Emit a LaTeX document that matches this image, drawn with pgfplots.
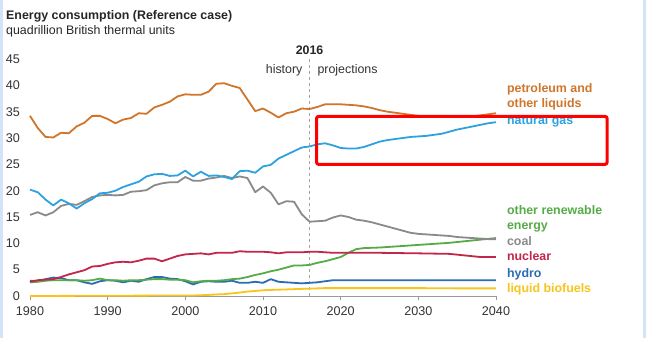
\documentclass[border=0pt]{standalone}
\usepackage{pgfplots}
\pgfplotsset{compat=1.18}
\usepackage{fontspec}
\setmainfont{Liberation Sans}
\definecolor{petro}{HTML}{D0762B}
\definecolor{gas}{HTML}{2EA2DF}
\definecolor{coal}{HTML}{8A8A8A}
\definecolor{nuc}{HTML}{C2264B}
\definecolor{renew}{HTML}{55AC47}
\definecolor{hydro}{HTML}{2A6DB3}
\definecolor{bio}{HTML}{F7C51B}
\definecolor{txt}{HTML}{333333}
\definecolor{edge}{HTML}{D3E4F6}
\begin{document}
\begin{tikzpicture}[x=1pt,y=1pt]
\path[use as bounding box] (0,0) rectangle (646,338);
\fill[white] (0,0) rectangle (646,338);
\fill[edge] (0,0) rectangle (3,338);
\fill[edge] (643,0) rectangle (646,338);
\node[anchor=west,font=\fontsize{12.4}{14}\selectfont\bfseries,text=black!85,inner sep=0pt] at (6,322) {Energy consumption (Reference case)};
\node[anchor=west,font=\fontsize{12.4}{14}\selectfont,text=black!85,inner sep=0pt] at (6,306.5) {quadrillion British thermal units};
\begin{axis}[
  at={(30pt,42pt)}, anchor=south west,
  scale only axis, width=466pt, height=237pt,
  xmin=1980, xmax=2040, ymin=0, ymax=45,
  xtick={1980,1990,...,2040}, ytick={0,5,...,45},
  xticklabel style={/pgf/number format/1000 sep={}},
  /pgf/number format/assume math mode=true,
  ticklabel style={font=\fontsize{12.6}{14}\selectfont, text=txt},
  ymajorgrids, grid style={draw=black!9, line width=0.8pt},
  axis x line*=bottom, axis y line=none,
  x axis line style={draw=black!40, line width=0.8pt, -},
  xtick style={draw=black!40, line width=0.8pt},
  tick align=outside, major tick length=4pt,
  ytick style={draw=none},
  xticklabel style={yshift=-3pt},
  clip=false,
  every axis plot/.append style={line width=1.8pt, line join=round, mark=none},
]
\pgfplotsinvokeforeach{0,5,...,45}{\node[anchor=east,font=\fontsize{12.6}{14}\selectfont,text=txt,inner sep=0pt] at (axis cs:1980,#1) [xshift=-10pt] {#1};}
\draw[black!35, dashed, line width=0.7pt] (axis cs:2016,0) -- (axis cs:2016,45.4);
\node[font=\fontsize{12.4}{14}\selectfont\bfseries,text=black!85,inner sep=0pt] at (axis cs:2016,46.6) {2016};
\node[anchor=east,font=\fontsize{12.4}{14}\selectfont,text=txt,inner sep=0pt] at (axis cs:2015.1,42.9) {history};
\node[anchor=west,font=\fontsize{12.4}{14}\selectfont,text=txt,inner sep=0pt] at (axis cs:2017.0,42.9) {projections};
% liquid biofuels
\addplot[bio] coordinates {(1980,0.0)(1990,0.05)(2000,0.1)(2001,0.1)(2002,0.15)(2003,0.2)(2004,0.3)(2005,0.35)(2006,0.5)(2007,0.65)(2008,0.85)(2009,0.95)(2010,1.1)(2011,1.15)(2012,1.2)(2013,1.25)(2014,1.3)(2015,1.35)(2016,1.4)(2017,1.45)(2018,1.5)(2019,1.5)(2020,1.5)(2025,1.5)(2030,1.5)(2035,1.45)(2040,1.45)};
% hydro
\addplot[hydro] coordinates {(1980,2.9)(1981,2.8)(1982,3.2)(1983,3.5)(1984,3.4)(1985,3.0)(1986,3.0)(1987,2.6)(1988,2.3)(1989,2.8)(1990,3.0)(1991,2.9)(1992,2.6)(1993,2.9)(1994,2.7)(1995,3.2)(1996,3.6)(1997,3.6)(1998,3.3)(1999,3.2)(2000,2.8)(2001,2.2)(2002,2.7)(2003,2.8)(2004,2.7)(2005,2.7)(2006,2.9)(2007,2.5)(2008,2.5)(2009,2.7)(2010,2.5)(2011,3.2)(2012,2.7)(2013,2.6)(2014,2.5)(2015,2.4)(2016,2.5)(2017,2.6)(2018,2.8)(2019,3.0)(2020,3.0)(2025,3.0)(2030,3.0)(2035,3.0)(2040,3.0)};
% other renewable
\addplot[renew] coordinates {(1980,2.6)(1981,2.7)(1982,2.9)(1983,3.0)(1984,3.0)(1985,3.0)(1986,3.0)(1987,2.9)(1988,3.0)(1989,3.3)(1990,3.0)(1991,3.0)(1992,2.9)(1993,3.0)(1994,3.0)(1995,3.1)(1996,3.2)(1997,3.2)(1998,3.1)(1999,3.1)(2000,3.0)(2001,2.6)(2002,2.8)(2003,2.9)(2004,2.9)(2005,3.0)(2006,3.2)(2007,3.3)(2008,3.6)(2009,4.0)(2010,4.3)(2011,4.7)(2012,5.0)(2013,5.4)(2014,5.8)(2015,5.8)(2016,5.9)(2017,6.3)(2018,6.6)(2019,7.0)(2020,7.4)(2021,8.2)(2022,8.9)(2023,9.1)(2024,9.15)(2025,9.2)(2026,9.3)(2027,9.4)(2028,9.5)(2029,9.6)(2030,9.7)(2032,9.9)(2034,10.1)(2036,10.4)(2038,10.7)(2040,11.0)};
% nuclear
\addplot[nuc] coordinates {(1980,2.7)(1981,3.0)(1982,3.1)(1983,3.2)(1984,3.6)(1985,4.1)(1986,4.5)(1987,4.9)(1988,5.6)(1989,5.7)(1990,6.1)(1991,6.4)(1992,6.5)(1993,6.4)(1994,6.7)(1995,7.1)(1996,7.1)(1997,6.6)(1998,7.1)(1999,7.6)(2000,7.9)(2001,8.0)(2002,8.1)(2003,7.9)(2004,8.2)(2005,8.2)(2006,8.2)(2007,8.5)(2008,8.4)(2009,8.4)(2010,8.4)(2011,8.3)(2012,8.1)(2013,8.3)(2014,8.3)(2015,8.3)(2016,8.4)(2017,8.4)(2018,8.3)(2019,8.2)(2020,8.2)(2025,8.2)(2030,8.1)(2034,8.0)(2036,7.7)(2038,7.4)(2040,7.4)};
% coal
\addplot[coal] coordinates {(1980,15.4)(1981,15.9)(1982,15.3)(1983,15.9)(1984,17.1)(1985,17.5)(1986,17.3)(1987,18.0)(1988,18.8)(1989,19.1)(1990,19.2)(1991,19.1)(1992,19.2)(1993,19.8)(1994,19.9)(1995,20.1)(1996,21.0)(1997,21.4)(1998,21.6)(1999,21.6)(2000,22.6)(2001,21.9)(2002,21.9)(2003,22.3)(2004,22.5)(2005,22.8)(2006,22.4)(2007,22.7)(2008,22.4)(2009,19.7)(2010,20.8)(2011,19.6)(2012,17.4)(2013,18.0)(2014,17.9)(2015,15.5)(2016,14.1)(2017,14.2)(2018,14.3)(2019,14.9)(2020,15.3)(2021,15.0)(2022,14.5)(2023,14.3)(2024,14.0)(2025,13.6)(2026,13.2)(2027,12.8)(2028,12.4)(2029,12.0)(2030,11.8)(2031,11.7)(2032,11.6)(2033,11.5)(2034,11.4)(2035,11.2)(2036,11.1)(2037,11.0)(2038,10.9)(2039,10.8)(2040,10.8)};
% natural gas
\addplot[gas] coordinates {(1980,20.2)(1981,19.7)(1982,18.3)(1983,17.2)(1984,18.3)(1985,17.6)(1986,16.6)(1987,17.6)(1988,18.4)(1989,19.5)(1990,19.6)(1991,20.0)(1992,20.7)(1993,21.2)(1994,21.7)(1995,22.7)(1996,23.1)(1997,23.2)(1998,22.8)(1999,22.9)(2000,23.8)(2001,22.7)(2002,23.6)(2003,22.8)(2004,22.9)(2005,22.6)(2006,22.2)(2007,23.7)(2008,23.8)(2009,23.4)(2010,24.6)(2011,24.9)(2012,26.1)(2013,26.8)(2014,27.5)(2015,28.2)(2016,28.4)(2017,28.8)(2018,29.0)(2019,28.6)(2020,28.1)(2021,28.0)(2022,28.0)(2023,28.3)(2024,28.8)(2025,29.3)(2026,29.6)(2027,29.8)(2028,30.0)(2029,30.2)(2030,30.3)(2031,30.4)(2032,30.6)(2033,30.8)(2034,31.2)(2035,31.6)(2036,31.9)(2037,32.2)(2038,32.5)(2039,32.8)(2040,33.0)};
% petroleum
\addplot[petro] coordinates {(1980,34.2)(1981,31.9)(1982,30.2)(1983,30.1)(1984,31.0)(1985,30.9)(1986,32.2)(1987,32.9)(1988,34.2)(1989,34.2)(1990,33.6)(1991,32.8)(1992,33.5)(1993,33.8)(1994,34.7)(1995,34.6)(1996,35.8)(1997,36.3)(1998,36.9)(1999,37.9)(2000,38.3)(2001,38.2)(2002,38.2)(2003,38.8)(2004,40.3)(2005,40.4)(2006,39.9)(2007,39.5)(2008,37.3)(2009,35.1)(2010,35.6)(2011,34.8)(2012,33.9)(2013,34.7)(2014,35.0)(2015,35.6)(2016,35.5)(2017,35.9)(2018,36.4)(2019,36.4)(2020,36.4)(2021,36.3)(2022,36.2)(2023,36.0)(2024,35.7)(2025,35.3)(2026,35.0)(2027,34.8)(2028,34.6)(2029,34.4)(2030,34.2)(2031,34.1)(2032,34.0)(2033,34.0)(2034,34.0)(2035,34.0)(2036,34.0)(2037,34.1)(2038,34.3)(2039,34.5)(2040,34.7)};
% labels
\begin{scope}[every node/.style={anchor=west,inner sep=0pt,font=\fontsize{12.4}{14.5}\selectfont\bfseries,align=left}]
\node[text=petro] at (axis cs:2041.4,37.85) {petroleum and\\other liquids};
\node[text=gas] at (axis cs:2041.4,33.2) {natural gas};
\node[text=renew] at (axis cs:2041.4,14.7) {other renewable\\energy};
\node[text=coal] at (axis cs:2041.4,10.35) {coal};
\node[text=nuc] at (axis cs:2041.4,7.6) {nuclear};
\node[text=hydro] at (axis cs:2041.4,4.1) {hydro};
\node[text=bio] at (axis cs:2041.4,1.3) {liquid biofuels};
\end{scope}
\draw[red, line width=3pt, rounded corners=2pt] (axis cs:2016.9,34.1) rectangle (axis cs:2054.3,25.0);
\end{axis}
\end{tikzpicture}
\end{document}
